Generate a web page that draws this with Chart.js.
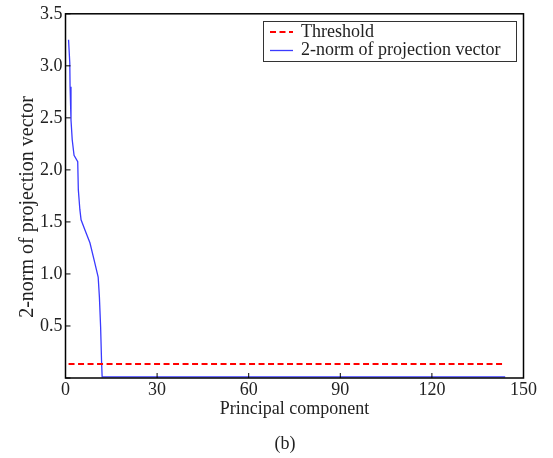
<!DOCTYPE html>
<html>
<head>
<meta charset="utf-8">
<script src="https://cdn.jsdelivr.net/npm/chart.js@4/dist/chart.umd.min.js"></script>
<style>
html,body{margin:0;padding:0;background:#fff;}
#wrap{width:553px;height:458px;}
</style>
</head>
<body>
<div id="wrap"><canvas id="c" width="553" height="458"></canvas></div>
<script>
// Data
const normX = [1, 1.4, 1.5, 1.8, 2.2, 2.8, 4.0, 4.2, 4.7, 5.1, 6.4, 8.0, 9.4, 10.7, 11.1, 11.5, 11.8, 12.0, 144];
const normY = [3.25, 3.03, 2.80, 2.48, 2.29, 2.14, 2.08, 1.81, 1.62, 1.52, 1.42, 1.30, 1.13, 0.97, 0.78, 0.49, 0.17, 0.01, 0.01];
const thrX = [1, 143];
const thrY = [0.134, 0.134];
const seriesLabels = ['Threshold', '2-norm of projection vector'];
const xTicks = [0, 30, 60, 90, 120, 150];
const yTicks = [0, 0.5, 1.0, 1.5, 2.0, 2.5, 3.0, 3.5];
const yTitle = '2-norm of projection vector';
const xTitle = 'Principal component';
const caption = '(b)';

const SERIF = '"Liberation Serif", "Times New Roman", serif';
const TXT = '#222';

const frameAndTicks = {
  id: 'frameAndTicks',
  afterDatasetsDraw(chart) {
    const {ctx, chartArea: a, scales} = chart;
    ctx.save();
    ctx.strokeStyle = '#000';
    ctx.lineWidth = 1.5;
    ctx.strokeRect(a.left, a.top, a.right - a.left, a.bottom - a.top);
    ctx.lineWidth = 1;
    const L = 5;
    scales.x.ticks.forEach(t => {
      const px = scales.x.getPixelForValue(t.value);
      ctx.beginPath(); ctx.moveTo(px, a.bottom); ctx.lineTo(px, a.bottom - L); ctx.stroke();
    });
    scales.y.ticks.forEach(t => {
      const py = scales.y.getPixelForValue(t.value);
      ctx.beginPath(); ctx.moveTo(a.left, py); ctx.lineTo(a.left + L, py); ctx.stroke();
    });
    // legend
    const bx = 263, by = 21, bw = 253, bh = 40;
    ctx.fillStyle = '#fff';
    ctx.fillRect(bx, by, bw, bh);
    ctx.strokeStyle = '#333';
    ctx.lineWidth = 1;
    ctx.strokeRect(bx + 0.5, by + 0.5, bw, bh);
    chart.data.datasets.forEach((ds, i) => {
      const y = by + 11 + i * 18.5;
      ctx.save();
      ctx.strokeStyle = ds.borderColor;
      ctx.lineWidth = ds.borderWidth;
      ctx.setLineDash(ds.borderDash || []);
      ctx.beginPath(); ctx.moveTo(bx + 7, y); ctx.lineTo(bx + 30, y); ctx.stroke();
      ctx.restore();
      ctx.fillStyle = TXT;
      ctx.font = '18px ' + SERIF;
      ctx.textBaseline = 'middle';
      ctx.textAlign = 'left';
      ctx.fillText(ds.label, bx + 38, y);
    });
    // y axis title
    ctx.save();
    ctx.fillStyle = TXT;
    ctx.font = '20px ' + SERIF;
    ctx.textAlign = 'center';
    ctx.textBaseline = 'middle';
    ctx.translate(28, 207);
    ctx.rotate(-Math.PI / 2);
    ctx.fillText(yTitle, 0, 0);
    ctx.restore();
    // caption
    ctx.fillStyle = TXT;
    ctx.font = '18px ' + SERIF;
    ctx.textAlign = 'center';
    ctx.textBaseline = 'middle';
    ctx.fillText(caption, 285, 444);
    ctx.restore();
  }
};

new Chart(document.getElementById('c'), {
  type: 'line',
  data: {
    datasets: [
      {
        label: seriesLabels[0],
        data: thrX.map((x, i) => ({x, y: thrY[i]})),
        borderColor: '#ff0000',
        borderWidth: 2,
        borderDash: [6, 3.5],
        pointRadius: 0,
        fill: false
      },
      {
        label: seriesLabels[1],
        data: normX.map((x, i) => ({x, y: normY[i]})),
        borderColor: '#3a3aff',
        borderWidth: 1.3,
        pointRadius: 0,
        tension: 0,
        fill: false
      }
    ]
  },
  options: {
    responsive: false,
    animation: false,
    layout: {padding: {top: 13, right: 29.5, left: 0, bottom: 0}},
    plugins: {
      legend: {display: false},
      tooltip: {enabled: false},
      title: {display: false}
    },
    scales: {
      x: {
        type: 'linear',
        min: 0, max: 150,
        afterBuildTicks: s => { s.ticks = xTicks.map(v => ({value: v})); },
        ticks: {color: TXT, font: {family: SERIF, size: 18}, padding: 1, maxRotation: 0,
                callback: v => String(v)},
        grid: {display: false, drawTicks: false},
        border: {display: false},
        title: {display: true, text: xTitle, color: TXT,
                font: {family: SERIF, size: 18}, padding: {top: 0, bottom: 38}},
        afterFit: s => { s.height = 80; }
      },
      y: {
        type: 'linear',
        min: 0, max: 3.5,
        afterBuildTicks: s => { s.ticks = yTicks.map(v => ({value: v})); },
        ticks: {color: TXT, font: {family: SERIF, size: 18}, padding: 3,
                callback: v => v === 0 ? '' : v.toFixed(1)},
        grid: {display: false, drawTicks: false},
        border: {display: false},
        title: {display: false},
        afterFit: s => { s.width = 65.5; }
      }
    }
  },
  plugins: [frameAndTicks]
});
</script>
</body>
</html>
